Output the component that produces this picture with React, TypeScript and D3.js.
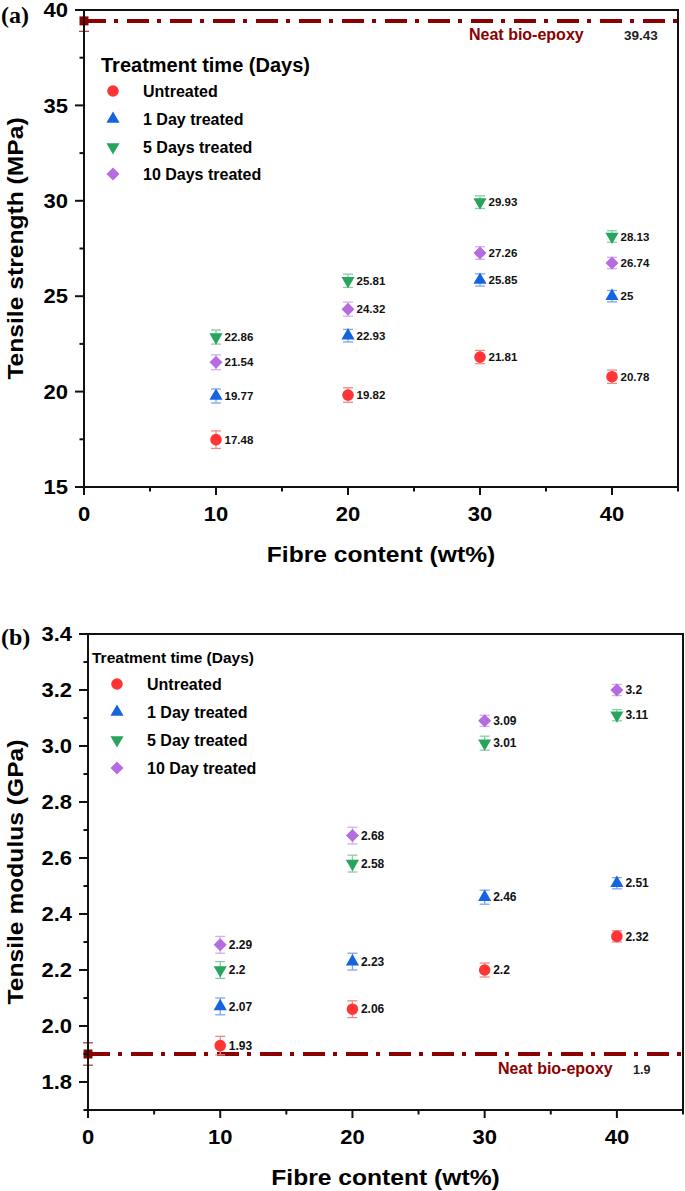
import React from "react";
import * as d3 from "d3";

// ---------- DATA ----------
const fibreContent = [10, 20, 30, 40];
const seriesNamesA = ["Untreated", "1 Day treated", "5 Days treated", "10 Days treated"];
const seriesNamesB = ["Untreated", "1 Day treated", "5 Day treated", "10 Day treated"];

const strengthUntreated = [17.48, 19.82, 21.81, 20.78];
const strength1Day = [19.77, 22.93, 25.85, 25];
const strength5Day = [22.86, 25.81, 29.93, 28.13];
const strength10Day = [21.54, 24.32, 27.26, 26.74];
const strengthErrUntreated = [0.46, 0.38, 0.35, 0.35];
const strengthErr1Day = [0.37, 0.33, 0.32, 0.3];
const strengthErr5Day = [0.37, 0.35, 0.33, 0.3];
const strengthErr10Day = [0.39, 0.37, 0.33, 0.3];
const neatStrength = 39.43;
const neatStrengthErr = 0.55;

const modulusUntreated = [1.93, 2.06, 2.2, 2.32];
const modulus1Day = [2.07, 2.23, 2.46, 2.51];
const modulus5Day = [2.2, 2.58, 3.01, 3.11];
const modulus10Day = [2.29, 2.68, 3.09, 3.2];
const modulusErrUntreated = [0.033, 0.03, 0.025, 0.02];
const modulusErr1Day = [0.03, 0.03, 0.025, 0.02];
const modulusErr5Day = [0.03, 0.03, 0.025, 0.02];
const modulusErr10Day = [0.03, 0.03, 0.02, 0.02];
const neatModulus = 1.9;
const neatModulusErr = 0.04;

const xTicks = [0, 10, 20, 30, 40];
const xMinorTicks = [5, 15, 25, 35, 45];
const strengthTicks = [15, 20, 25, 30, 35, 40];
const strengthMinor = [17.5, 22.5, 27.5, 32.5, 37.5];
const modulusTicks = [1.8, 2.0, 2.2, 2.4, 2.6, 2.8, 3.0, 3.2, 3.4];
const modulusMinor = [1.7, 1.9, 2.1, 2.3, 2.5, 2.7, 2.9, 3.1, 3.3];

// ---------- STYLE ----------
const colors = ["#ff3535", "#1463e0", "#27a55c", "#b46ce0"];
const errColors = ["#f08a8a", "#7ea6ec", "#85cfa4", "#d2aef0"];
const neatColor = "#8b0000";
const FONT = "'Liberation Sans', Arial, sans-serif";
const SX = 1.1;

const symbolPaths = [
  d3.symbol().type(d3.symbolCircle).size(106)() as string,
  d3.symbol().type(d3.symbolTriangle).size(75)() as string,
  d3.symbol().type(d3.symbolTriangle).size(75)() as string,
  d3.symbol().type(d3.symbolSquare).size(85)() as string,
];
const symbolRot = [0, 0, 180, 45];
const squarePath = d3.symbol().type(d3.symbolSquare).size(81)() as string;

function Marker({ i, x, y }: { i: number; x: number; y: number }) {
  return (
    <path
      d={symbolPaths[i]}
      transform={`translate(${x},${y}) rotate(${symbolRot[i]})`}
      fill={colors[i]}
    />
  );
}

function SText({ x, y, size, children, anchor = "start", rotate = 0, sx = SX, fill = "#000" }: any) {
  return (
    <text
      transform={`translate(${x},${y}) rotate(${rotate}) scale(${sx},1)`}
      fontFamily={FONT}
      fontWeight="bold"
      fontSize={size}
      textAnchor={anchor}
      fill={fill}
    >
      {children}
    </text>
  );
}

function Panel(p: any) {
  const x = d3.scaleLinear().domain([0, 45]).range([p.x0, p.x1]);
  const y = d3.scaleLinear().domain(p.yDomain).range([p.y1, p.y0]);
  const yNeat = y(p.neat);
  return (
    <g>
      {/* neat line */}
      <line
        x1={x(0)}
        x2={x(45)}
        y1={yNeat}
        y2={yNeat}
        stroke={neatColor}
        strokeWidth={4}
        strokeDasharray="22 8 4 9"
      />
      <line x1={x(0)} x2={x(0)} y1={y(p.neat - p.neatErr)} y2={y(p.neat + p.neatErr)} stroke="#a84848" strokeWidth={1.3} />
      <line x1={x(0) - 5} x2={x(0) + 5} y1={y(p.neat - p.neatErr)} y2={y(p.neat - p.neatErr)} stroke="#a84848" strokeWidth={1.3} />
      <line x1={x(0) - 5} x2={x(0) + 5} y1={y(p.neat + p.neatErr)} y2={y(p.neat + p.neatErr)} stroke="#a84848" strokeWidth={1.3} />
      <path d={squarePath} transform={`translate(${x(0)},${yNeat})`} fill={neatColor} />

      {/* data */}
      {p.series.map((vals: number[], si: number) =>
        vals.map((v, k) => {
          const cx = x(fibreContent[k]);
          const cy = y(v);
          const e = p.errs[si][k];
          const ec = errColors[si];
          return (
            <g key={`${si}-${k}`}>
              <line x1={cx} x2={cx} y1={y(v - e)} y2={y(v + e)} stroke={ec} strokeWidth={1.3} />
              <line x1={cx - 5} x2={cx + 5} y1={y(v - e)} y2={y(v - e)} stroke={ec} strokeWidth={1.3} />
              <line x1={cx - 5} x2={cx + 5} y1={y(v + e)} y2={y(v + e)} stroke={ec} strokeWidth={1.3} />
              <Marker i={si} x={cx} y={cy} />
              <text
                x={cx + 8.5}
                y={cy + 4.2}
                fontFamily={FONT}
                fontWeight="bold"
                fontSize={p.labelSize}
                fill="#111"
              >
                {String(v)}
              </text>
            </g>
          );
        })
      )}

      {/* frame */}
      <rect x={p.x0} y={p.y0} width={p.x1 - p.x0} height={p.y1 - p.y0} fill="none" stroke="#111" strokeWidth={2} />

      {/* x ticks */}
      {xTicks.map((t) => (
        <g key={`xt${t}`}>
          <line x1={x(t)} x2={x(t)} y1={p.y1} y2={p.y1 + 8} stroke="#111" strokeWidth={2} />
          <SText x={x(t)} y={p.y1 + 34} size={20} anchor="middle">
            {String(t)}
          </SText>
        </g>
      ))}
      {xMinorTicks.map((t) => (
        <line key={`xm${t}`} x1={x(t)} x2={x(t)} y1={p.y1} y2={p.y1 + 4.5} stroke="#111" strokeWidth={2} />
      ))}
      {/* y ticks */}
      {p.yTicks.map((t: number) => (
        <g key={`yt${t}`}>
          <line x1={p.x0 - 9} x2={p.x0} y1={y(t)} y2={y(t)} stroke="#111" strokeWidth={2} />
          <SText x={p.x0 - 16} y={y(t) + 7.2} size={20} anchor="end">
            {p.yFmt(t)}
          </SText>
        </g>
      ))}
      {p.yMinor.map((t: number) => (
        <line key={`ym${t}`} x1={p.x0 - 4.5} x2={p.x0} y1={y(t)} y2={y(t)} stroke="#111" strokeWidth={2} />
      ))}

      {/* axis titles */}
      <SText x={(p.x0 + p.x1) / 2} y={p.y1 + 75} size={22} anchor="middle" sx={1.12}>
        Fibre content (wt%)
      </SText>
      <SText x={23} y={(p.y0 + p.y1) / 2} size={22} anchor="middle" rotate={-90} sx={1.12}>
        {p.yTitle}
      </SText>

      {/* panel label */}
      <text x={1} y={p.panelY} fontFamily="'Liberation Serif', 'Times New Roman', serif" fontWeight="bold" fontSize={24}>
        {p.panel}
      </text>

      {/* neat labels */}
      <text x={p.x1 - p.neatLabelDx} y={yNeat + 19.5} fontFamily={FONT} fontWeight="bold" fontSize={16} fill={neatColor}>
        Neat bio-epoxy
      </text>
      <text x={p.x1 - p.neatValueDx} y={yNeat + 19.5} fontFamily={FONT} fontWeight="bold" fontSize={p.neatValueSize} fill="#222">
        {String(p.neat)}
      </text>

      {/* legend */}
      <text x={p.legX} y={p.legTitleY} fontFamily={FONT} fontWeight="bold" fontSize={p.legTitleSize} fill="#000">
        Treatment time (Days)
      </text>
      {p.names.map((n: string, i: number) => (
        <g key={n}>
          <Marker i={i} x={p.legMarkerX} y={p.legY[i]} />
          <text x={p.legTextX} y={p.legY[i] + 5.8} fontFamily={FONT} fontWeight="bold" fontSize={16} fill="#000">
            {n}
          </text>
        </g>
      ))}
    </g>
  );
}

export default function App() {
  return (
    <svg
      width={685}
      height={1191}
      style={{ position: "absolute", left: 0, top: 0, background: "#fff" }}
    >
      <rect x={0} y={0} width={685} height={1191} fill="#fff" />
      <Panel
        x0={84}
        x1={678}
        y0={10}
        y1={487}
        yDomain={[15, 40]}
        yTicks={strengthTicks}
        yMinor={strengthMinor}
        yFmt={(t: number) => String(t)}
        yTitle="Tensile strength (MPa)"
        series={[strengthUntreated, strength1Day, strength5Day, strength10Day]}
        errs={[strengthErrUntreated, strengthErr1Day, strengthErr5Day, strengthErr10Day]}
        neat={neatStrength}
        neatErr={neatStrengthErr}
        neatLabelDx={209}
        neatValueDx={54}
        neatValueSize={13.5}
        labelSize={11.5}
        panel="(a)"
        panelY={22.5}
        names={seriesNamesA}
        legX={101}
        legTitleY={72}
        legTitleSize={20}
        legMarkerX={113}
        legTextX={143}
        legY={[91, 119, 147, 174]}
      />
      <Panel
        x0={88}
        x1={683}
        y0={634}
        y1={1110}
        yDomain={[1.7, 3.4]}
        yTicks={modulusTicks}
        yMinor={modulusMinor}
        yFmt={(t: number) => t.toFixed(1)}
        yTitle="Tensile modulus (GPa)"
        series={[modulusUntreated, modulus1Day, modulus5Day, modulus10Day]}
        errs={[modulusErrUntreated, modulusErr1Day, modulusErr5Day, modulusErr10Day]}
        neat={neatModulus}
        neatErr={neatModulusErr}
        neatLabelDx={185}
        neatValueDx={50}
        neatValueSize={12.5}
        labelSize={12}
        panel="(b)"
        panelY={645}
        names={seriesNamesB}
        legX={92}
        legTitleY={663}
        legTitleSize={15.5}
        legMarkerX={117}
        legTextX={147}
        legY={[684, 712, 740, 768]}
      />
    </svg>
  );
}
